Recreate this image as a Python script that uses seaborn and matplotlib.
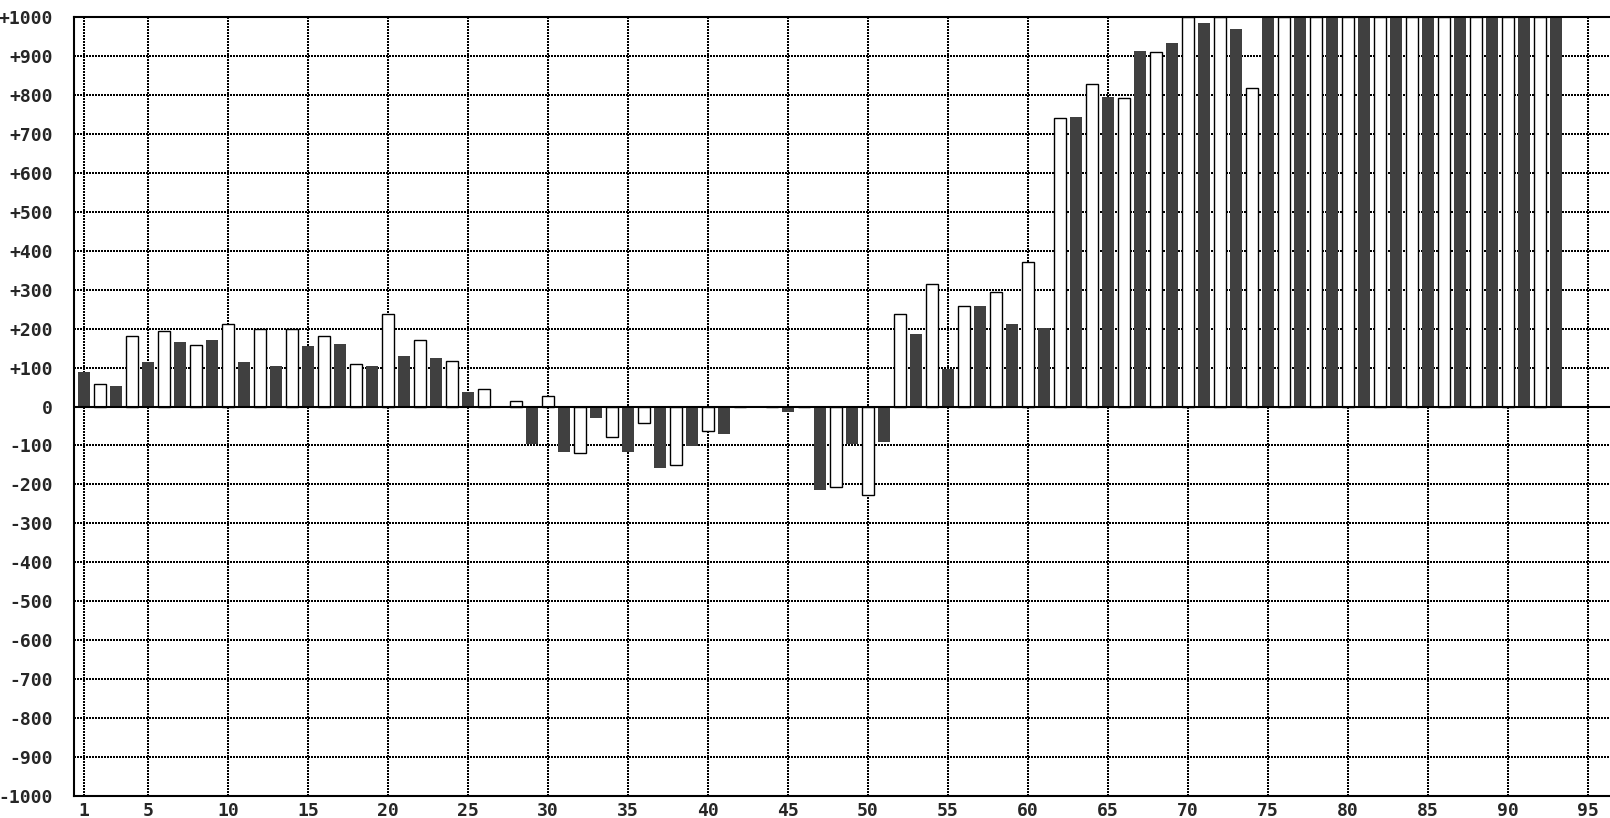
import pandas as pd
import matplotlib
matplotlib.use('Agg')
import matplotlib.pyplot as plt
import seaborn as sns

# values (bars 1..93, odd = dark, even = white)
positions = list(range(1, 94))
values = [
    89, 57, 53, 180, 115, 195, 166, 159, 171, 211,
    115, 200, 105, 200, 156, 180, 161, 108, 105, 237,
    130, 170, 125, 118, 38, 46, 0, 15, -96, 27,
    -117, -120, -29, -79, -117, -43, -158, -151, -101, -63,
    -70, 0, 0, 0, -14, 0, -214, -207, -96, -228,
    -91, 237, 187, 314, 96, 257, 259, 293, 213, 370,
    202, 740, 742, 828, 794, 792, 912, 910, 932, 1000,
    984, 1000, 968, 818, 1000, 1000, 1000, 1000, 1000, 1000,
    1000, 1000, 1000, 1000, 1000, 1000, 1000, 1000, 1000, 1000,
    1000, 1000, 1000,
]
kinds = ['dark' if p % 2 == 1 else 'light' for p in positions]
x_ticks = [1] + list(range(5, 100, 5))
y_ticks = list(range(-1000, 1001, 100))

df = pd.DataFrame({'pos': positions, 'value': values, 'kind': kinds})

sns.set_style('white')
plt.rcParams['font.family'] = ['DejaVu Sans Mono', 'DejaVu Sans']

fig = plt.figure(figsize=(16.1, 8.18), dpi=100)
ax = fig.add_axes([74 / 1610, 22 / 818, (1640 - 74) / 1610, 779 / 818])

sns.barplot(data=df, x='pos', y='value', hue='kind', hue_order=['dark', 'light'],
            palette={'dark': '#404040', 'light': 'white'}, native_scale=True,
            dodge=False, width=0.75, errorbar=None, legend=False, ax=ax)

# white bars get a black outline
for bar in ax.containers[1]:
    bar.set_edgecolor('black')
    bar.set_linewidth(1.0)
for bar in ax.containers[0]:
    bar.set_linewidth(0)

ax.axhline(0, color='black', lw=1.5, zorder=5)
ax.set_xlim(0.375, 0.375 + (1640 - 74) / 16)
ax.set_ylim(-1000, 1000)
ax.set_xticks(x_ticks)
ax.set_xticklabels([str(t) for t in x_ticks])
ax.set_yticks(y_ticks)
ax.set_yticklabels([('+' + str(t)) if t > 0 else str(t) for t in y_ticks])
ax.set_axisbelow(True)
ax.grid(True, color='black', linestyle=(0, (1, 1)), linewidth=1.44, antialiased=False)
ax.tick_params(axis='both', length=0, labelsize=13)
for lbl in ax.get_xticklabels() + ax.get_yticklabels():
    lbl.set_fontweight('bold')
ax.tick_params(axis='y', pad=15)
ax.tick_params(axis='x', pad=4)
ax.set_xlabel('')
ax.set_ylabel('')
for s in ax.spines.values():
    s.set_linewidth(1.5)
    s.set_color('black')

fig.savefig('out.png', dpi=100)
